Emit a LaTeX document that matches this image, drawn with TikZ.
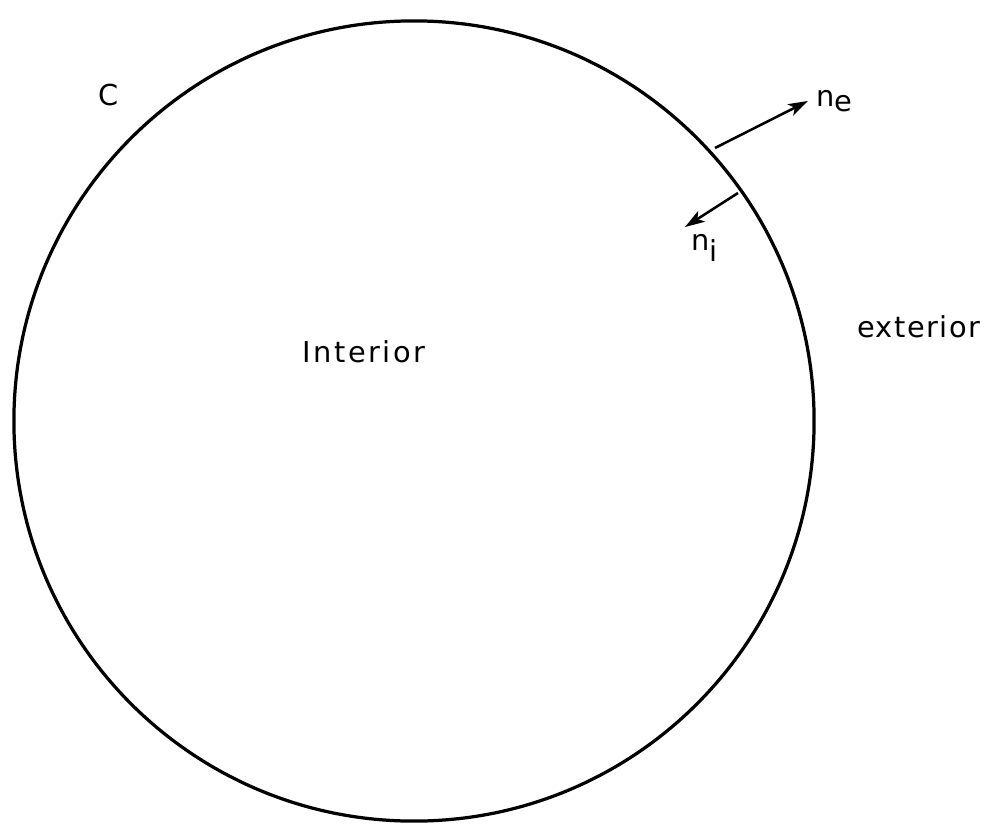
\documentclass[tikz,border=0pt]{standalone}
\usepackage{fontspec}
\newfontfamily\labfont{DejaVu Sans}[LetterSpace=5]
\usetikzlibrary{arrows.meta}
\begin{document}
\begin{tikzpicture}[x=0.025cm,y=-0.025cm,
  lab/.style={font=\labfont\fontsize{20.5}{24}\selectfont, inner sep=0pt},
  normal/.style={line width=1.8pt, -{Stealth[length=14pt,width=9pt,inset=3.5pt]}}]
\useasboundingbox (0,0) rectangle (995,835);
\node[draw, line width=2.3pt, circle, minimum size=20cm, inner sep=0pt] (C) at (414,421) {};
\coordinate (ne0) at (715,148);
\coordinate (ne1) at (808,101);
\coordinate (ni0) at (738,193);
\coordinate (ni1) at (685,227);
\draw[normal] (ne0) -- (ne1);
\draw[normal] (ni0) -- (ni1);
\node[lab, anchor=base west] (lne) at (816,106) {n\raisebox{-4pt}{e}};
\node[lab, anchor=base west] (lni) at (691,250) {n\raisebox{-8.5pt}{i}};
\node[lab, anchor=base west] (lc) at (98,105) {C};
\node[lab, anchor=base west] (lint) at (302,362) {\addfontfeature{LetterSpace=9}Interior};
\node[lab, anchor=base west] (lext) at (857,337) {exterior};
\end{tikzpicture}
\end{document}
